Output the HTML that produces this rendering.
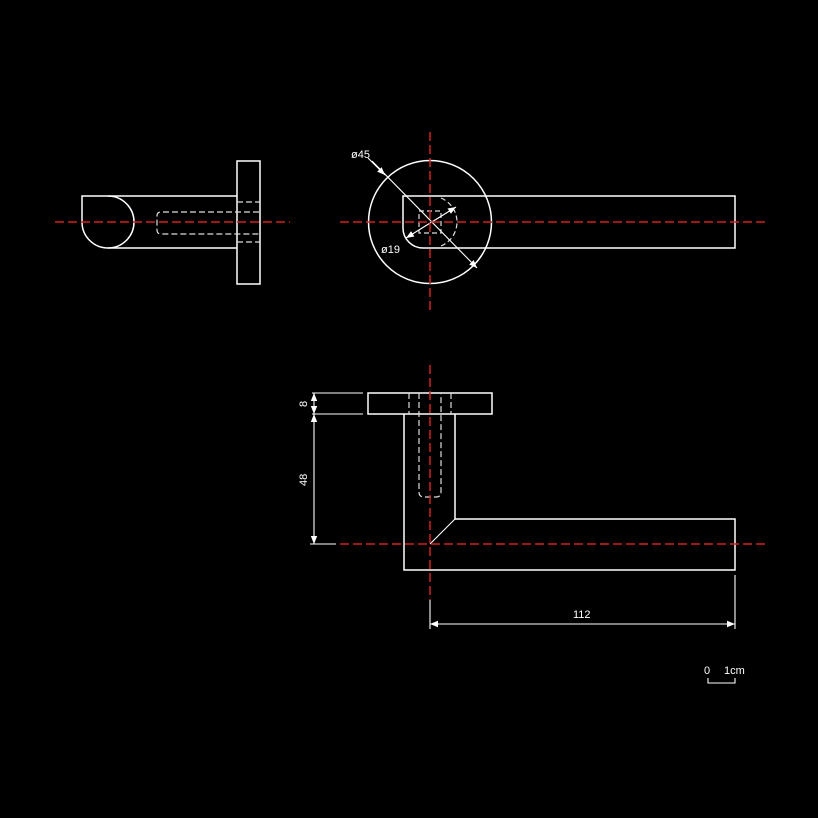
<!DOCTYPE html>
<html><head><meta charset="utf-8"><style>
html,body{margin:0;padding:0;background:#000;}
svg{display:block}
text{font-family:"Liberation Sans",sans-serif;fill:#fff;font-size:11px}
</style></head><body>
<svg width="818" height="818" viewBox="0 0 818 818" xmlns="http://www.w3.org/2000/svg">
<rect width="818" height="818" fill="#000"/>
<defs>
<marker id="a" viewBox="0 0 10 10" refX="10" refY="5" markerWidth="8" markerHeight="8" orient="auto-start-reverse" markerUnits="userSpaceOnUse"><path d="M0,1 L10,5 L0,9 Z" fill="#fff"/></marker>
</defs>
<g fill="none" stroke="#fff" stroke-width="1.5">
<!-- view 1 -->
<rect x="237" y="161" width="23" height="123"/>
<path d="M108,196 A26,26 0 0 1 134,222 A26,26 0 0 1 108,248 A26,26 0 0 1 82,222 L82,196 Z"/>
<line x1="108" y1="196" x2="237" y2="196"/>
<line x1="108" y1="248" x2="237" y2="248"/>
<g stroke-dasharray="6,3" stroke="#ddd" stroke-width="1.2">
<path d="M259,212 L161,212 Q157,212 157,216 L157,230 Q157,234 161,234 L259,234"/>
<line x1="237" y1="202" x2="260" y2="202"/>
<line x1="237" y1="242" x2="260" y2="242"/>
</g>
<!-- view 2 -->
<circle cx="430" cy="222" r="61.5"/>
<path d="M735,196 L403,196 L403,228 A20,20 0 0 0 423,248 L735,248 Z"/>
<g stroke-dasharray="5,3" stroke="#ddd" stroke-width="1.2">
<path d="M441,198 A26,26 0 0 1 441,246"/>
<rect x="419" y="211" width="22" height="22"/>
</g>
<line x1="372" y1="161" x2="477" y2="268" marker-end="url(#a)" stroke-width="1.1"/>
<line x1="385" y1="175" x2="368" y2="158" marker-start="url(#a)" stroke-width="1.1" />
<line x1="406" y1="238" x2="456" y2="207" marker-start="url(#a)" marker-end="url(#a)" stroke-width="1.1"/>
<!-- view 3 -->
<rect x="368" y="393" width="124" height="21"/>
<path d="M404,414 L404,570 L735,570 L735,519 L455,519 L455,414"/>
<line x1="455" y1="519" x2="430" y2="544" stroke-width="1.1"/>
<g stroke-dasharray="6,3" stroke="#ddd" stroke-width="1.2">
<line x1="409" y1="393" x2="409" y2="414"/>
<line x1="451" y1="393" x2="451" y2="414"/>
<path d="M419,393 L419,492 Q419,497 424,497 L436,497 Q441,497 441,492 L441,393"/>
</g>
<g stroke-width="1.1">
<line x1="312" y1="393" x2="363" y2="393"/>
<line x1="312" y1="414" x2="363" y2="414"/>
<line x1="310" y1="544" x2="336" y2="544"/>
<line x1="314" y1="393" x2="314" y2="414" marker-start="url(#a)" marker-end="url(#a)"/>
<line x1="314" y1="414" x2="314" y2="544" marker-start="url(#a)" marker-end="url(#a)"/>
<line x1="430" y1="600" x2="430" y2="629"/>
<line x1="735" y1="575" x2="735" y2="629"/>
<line x1="430" y1="624" x2="735" y2="624" marker-start="url(#a)" marker-end="url(#a)"/>
<path d="M708,678 L708,683 L735,683 L735,678"/>
</g>
</g>
<!-- red centerlines -->
<g stroke="#d42020" stroke-width="1.5" stroke-dasharray="9,4">
<line x1="55" y1="222" x2="290" y2="222"/>
<line x1="340" y1="222" x2="765" y2="222"/>
<line x1="430" y1="132" x2="430" y2="312"/>
<line x1="430" y1="365" x2="430" y2="600"/>
<line x1="340" y1="544" x2="765" y2="544"/>
</g>
<text x="351" y="158">ø45</text>
<text x="381" y="253">ø19</text>
<text x="573" y="618">112</text>
<text transform="translate(307,407) rotate(-90)">8</text>
<text transform="translate(307,486) rotate(-90)">48</text>
<text x="704" y="674" font-size="10">0</text>
<text x="724" y="674" font-size="10">1cm</text>
</svg>
</body></html>
